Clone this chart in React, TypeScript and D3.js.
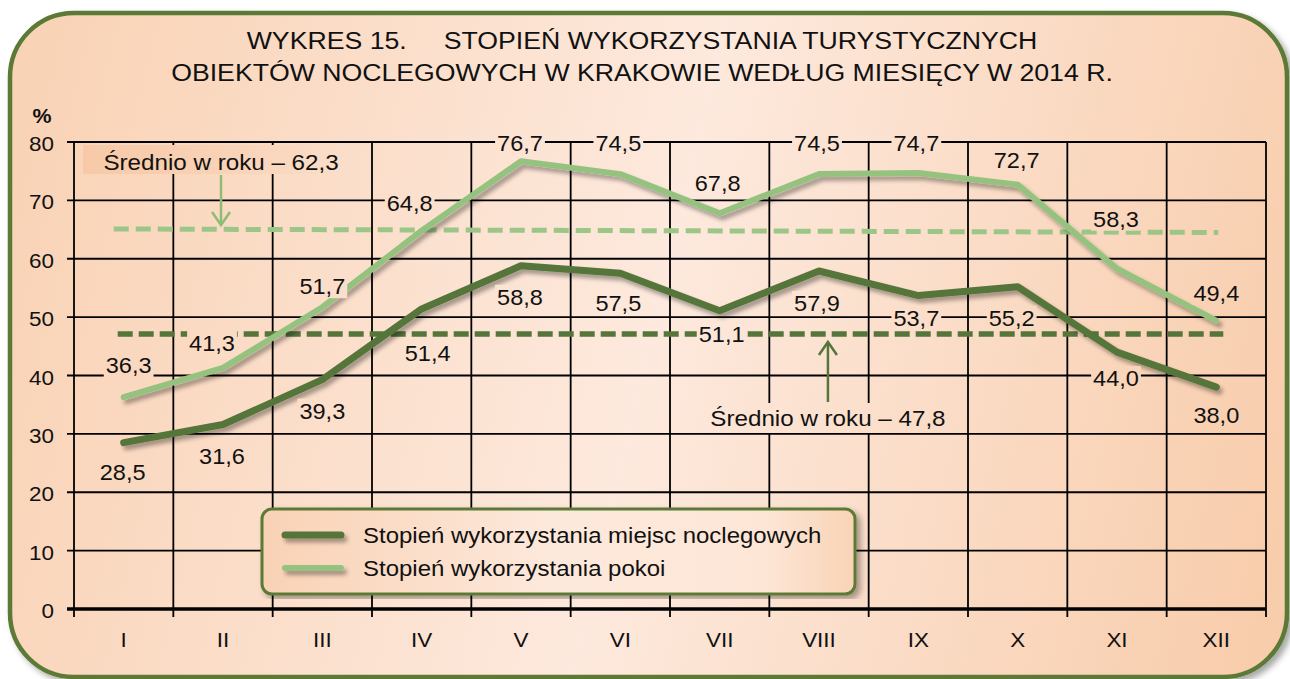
import React from "react";
import * as d3 from "d3";

const months = ["I", "II", "III", "IV", "V", "VI", "VII", "VIII", "IX", "X", "XI", "XII"];
const placesValues = [28.5, 31.6, 39.3, 51.4, 58.8, 57.5, 51.1, 57.9, 53.7, 55.2, 44.0, 38.0];
const roomsValues = [36.3, 41.3, 51.7, 64.8, 76.7, 74.5, 67.8, 74.5, 74.7, 72.7, 58.3, 49.4];
const yTicks = [0, 10, 20, 30, 40, 50, 60, 70, 80];
const seriesNames = ["Stopień wykorzystania miejsc noclegowych", "Stopień wykorzystania pokoi"];
const titleLines = [
  "WYKRES 15.     STOPIEŃ WYKORZYSTANIA TURYSTYCZNYCH",
  "OBIEKTÓW NOCLEGOWYCH W KRAKOWIE WEDŁUG MIESIĘCY W 2014 R.",
];
const avgRooms = 62.3;
const avgPlaces = 47.8;
// levels at which the average guide lines are drawn in the picture (start, end)
const avgRoomsLine = [65.1, 64.5];
const avgPlacesLine = [47.1, 47.1];

// label placement (pixel offsets from the point) – layout only
const roomsLabelOffsets = [[5, -32], [-11, -25], [0, -21], [-12, -28], [-1, -18], [-2, -31], [-2, -30], [-2, -31], [-2, -30], [-1, -25], [-1, -50], [0, -28]];
const placesLabelOffsets = [[-1, 29], [-1, 31], [0, 31], [6, 44], [-1, 31], [-2, 30], [2, 23], [-2, 32], [-2, 22], [-6, 31], [-1, 26], [0, 28]];

const W = 1290, H = 679;
const M = { left: 74, right: 1266, top: 142, bottom: 609 };
const DARK = "#56753a";
const LIGHT = "#96c27f";
const FONT = "Arial, 'Liberation Sans', sans-serif";
const SX = 1.07;
const FS = 22;

const fmt = (v: number) => v.toFixed(1).replace(".", ",");
const textW = (s: string, size: number) => {
  let w = 0;
  for (const c of s) w += c === "," ? 0.278 : c === " " ? 0.278 : 0.556;
  return w * size * SX;
};

function T({ x, y, anchor = "middle", size = FS, weight = "normal", sx = SX, children }: any) {
  return (
    <text
      transform={`translate(${x},${y}) scale(${sx},1)`}
      textAnchor={anchor}
      fontSize={size}
      fontWeight={weight}
      fontFamily={FONT}
      fill="#111"
      style={{ whiteSpace: "pre" }}
    >
      {children}
    </text>
  );
}

export default function App() {
  const x = d3.scaleBand<string>().domain(months).range([M.left, M.right]).padding(0);
  const bw = x.bandwidth();
  const cx = (m: string) => (x(m) as number) + bw / 2;
  const y = d3.scaleLinear().domain([0, 80]).range([M.bottom, M.top]);

  const line = d3
    .line<number>()
    .x((_, i) => cx(months[i]))
    .y((d) => y(d));

  const boundaries = d3.range(months.length + 1).map((i) => M.left + i * bw);

  const roomsAvgX0 = (x("I") as number) + bw * 0.4;
  const roomsAvgX1 = (x("XII") as number) + bw * 0.52;
  const placesAvgX0 = (x("I") as number) + bw * 0.44;
  const placesAvgX1 = (x("XII") as number) + bw * 0.57;

  const roomsArrowX = (x("II") as number) + bw * 0.48;
  const placesArrowX = (x("VIII") as number) + bw * 0.59;
  const roomsAvgY = y(avgRoomsLine[0]);
  const placesAvgY = y(avgPlacesLine[0]);

  const roomsAvgLabel = `Średnio w roku – ${fmt(avgRooms)}`;
  const placesAvgLabel = `Średnio w roku – ${fmt(avgPlaces)}`;

  const labels = [
    ...roomsValues.map((v, i) => ({ v, i, off: roomsLabelOffsets[i] })),
    ...placesValues.map((v, i) => ({ v, i, off: placesLabelOffsets[i] })),
  ];

  return (
    <svg width={W} height={H} style={{ position: "absolute", left: 0, top: 0 }}>
      <defs>
        <linearGradient id="bg" gradientUnits="userSpaceOnUse" x1={10} y1={200} x2={1287} y2={500}>
          <stop offset="0" stopColor="#f9d3b6" />
          <stop offset="0.5" stopColor="#fde9dd" />
          <stop offset="1" stopColor="#f8cdac" />
        </linearGradient>
        <linearGradient id="legbg" x1="0" y1="0" x2="1" y2="0">
          <stop offset="0" stopColor="#f9d2b5" />
          <stop offset="0.5" stopColor="#fde9dc" />
          <stop offset="0.85" stopColor="#fde6d6" />
          <stop offset="1" stopColor="#f9d3b6" />
        </linearGradient>
        <linearGradient id="avgbg" x1="0" y1="0" x2="1" y2="0">
          <stop offset="0" stopColor="#f7c8a6" stopOpacity="0.9" />
          <stop offset="1" stopColor="#f7c8a6" stopOpacity="0" />
        </linearGradient>
        <filter id="shadow" filterUnits="userSpaceOnUse" x={0} y={0} width={W} height={H}>
          <feDropShadow dx="3" dy="4" stdDeviation="2.2" floodColor="#000" floodOpacity="0.35" />
        </filter>
        <filter id="frameShadow" x="-5%" y="-5%" width="110%" height="110%">
          <feDropShadow dx="4" dy="4" stdDeviation="3" floodColor="#000" floodOpacity="0.35" />
        </filter>
      </defs>

      {/* frame */}
      <rect x={10} y={13} width={1277} height={664} rx={64} ry={64} fill="url(#bg)" stroke="#5b7a35" strokeWidth={4.5} filter="url(#frameShadow)" />

      {/* title */}
      {titleLines.map((t, i) => (
        <T key={i} x={642} y={49 + i * 32} size={23} sx={1.16}>{t}</T>
      ))}

      {/* y axis label */}
      <T x={42} y={123} size={20} weight="bold">%</T>

      {/* grid */}
      {yTicks.map((t) => (
        <line key={t} x1={M.left - 7} x2={M.right} y1={y(t)} y2={y(t)} stroke="#000" strokeWidth={t === 0 ? 3.5 : 1.8} />
      ))}
      {boundaries.map((b, i) => (
        <line key={i} x1={b} x2={b} y1={M.top} y2={M.bottom + 8} stroke="#000" strokeWidth={1.8} />
      ))}
      {yTicks.map((t) => (
        <T key={t} x={54} y={y(t) + 9} anchor="end" size={21}>{String(t)}</T>
      ))}
      {months.map((m) => (
        <T key={m} x={cx(m)} y={647} size={21}>{m}</T>
      ))}

      {/* average lines */}
      <line x1={roomsAvgX0} x2={roomsAvgX1} y1={y(avgRoomsLine[0])} y2={y(avgRoomsLine[1])} stroke="#9cc687" strokeWidth={5} strokeDasharray="15 7" />
      <line x1={placesAvgX0} x2={placesAvgX1} y1={y(avgPlacesLine[0])} y2={y(avgPlacesLine[1])} stroke={DARK} strokeWidth={5.5} strokeDasharray="15 6" />

      {/* series */}
      <path d={line(roomsValues) as string} fill="none" stroke={LIGHT} strokeWidth={6} strokeLinejoin="round" strokeLinecap="round" filter="url(#shadow)" />
      <path d={line(placesValues) as string} fill="none" stroke={DARK} strokeWidth={7} strokeLinejoin="round" strokeLinecap="round" filter="url(#shadow)" />

      {/* data labels */}
      {labels.map((l, k) => {
        const s = fmt(l.v);
        const px = cx(months[l.i]) + l.off[0];
        const py = y(l.v) + l.off[1];
        const w = textW(s, FS) + 4;
        return (
          <g key={k}>
            <rect x={px - w / 2} y={py - 12} width={w} height={24} fill="url(#bg)" />
            <T x={px} y={py + 8}>{s}</T>
          </g>
        );
      })}

      {/* average annotations */}
      <rect x={83} y={145} width={256} height={29} fill="url(#bg)" />
      <rect x={83} y={145} width={256} height={29} fill="url(#avgbg)" />
      <T x={roomsArrowX} y={170} sx={1.1}>{roomsAvgLabel}</T>
      <g stroke="#8dbd72" strokeWidth={2.5} fill="none">
        <line x1={roomsArrowX} x2={roomsArrowX} y1={175} y2={roomsAvgY - 4} />
        <polyline points={`${roomsArrowX - 9},${roomsAvgY - 17} ${roomsArrowX},${roomsAvgY - 4} ${roomsArrowX + 9},${roomsAvgY - 17}`} />
      </g>

      <rect x={placesArrowX - 128} y={403} width={256} height={30} fill="url(#bg)" />
      <T x={placesArrowX} y={426} sx={1.1}>{placesAvgLabel}</T>
      <g stroke={DARK} strokeWidth={2.5} fill="none">
        <line x1={placesArrowX} x2={placesArrowX} y1={402} y2={placesAvgY + 8} />
        <polyline points={`${placesArrowX - 9},${placesAvgY + 21} ${placesArrowX},${placesAvgY + 8} ${placesArrowX + 9},${placesAvgY + 21}`} />
      </g>

      {/* legend */}
      <rect x={262} y={509} width={593} height={85} rx={10} ry={10} fill="url(#legbg)" stroke="#5b7a35" strokeWidth={3} filter="url(#frameShadow)" />
      <line x1={285} x2={341} y1={535} y2={535} stroke={DARK} strokeWidth={7} strokeLinecap="round" filter="url(#shadow)" />
      <line x1={285} x2={341} y1={568} y2={568} stroke={LIGHT} strokeWidth={6} strokeLinecap="round" filter="url(#shadow)" />
      <T x={363} y={543} anchor="start" sx={1.09}>{seriesNames[0]}</T>
      <T x={363} y={576} anchor="start" sx={1.09}>{seriesNames[1]}</T>
    </svg>
  );
}
